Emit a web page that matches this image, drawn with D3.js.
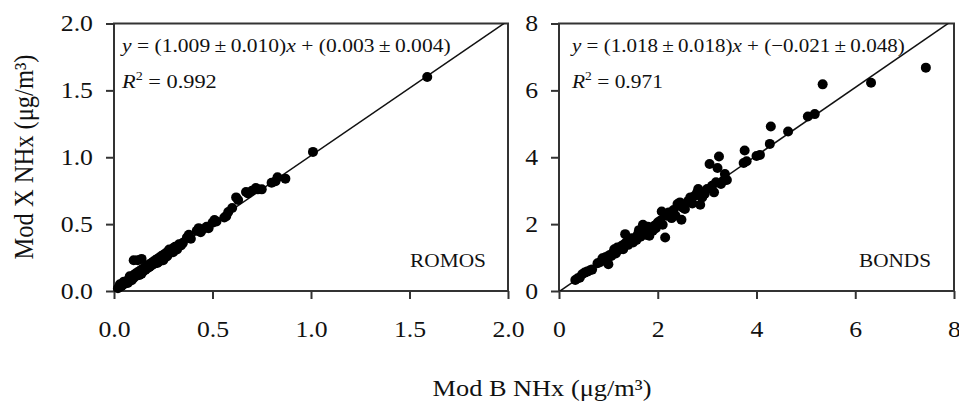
<!DOCTYPE html>
<html><head><meta charset="utf-8">
<script src="https://cdn.jsdelivr.net/npm/d3@7"></script>
<style>
body{margin:0;background:#fff}
svg{display:block;background:#fff}
text{font-family:"Liberation Serif","Times New Roman",serif;fill:#111}
</style>
</head><body>
<svg id="c" width="959" height="402"></svg>
<script>
// ---------- data ----------
const panelNames = ["ROMOS", "BONDS"];
const romosX = [0.02,0.03,0.03,0.04,0.05,0.05,0.06,0.07,0.07,0.08,0.08,0.09,0.10,0.10,0.11,0.11,0.12,0.12,0.13,0.13,0.14,0.14,0.15,0.15,0.16,0.16,0.17,0.17,0.18,0.18,0.19,0.19,0.20,0.20,0.21,0.21,0.22,0.22,0.23,0.23,0.24,0.24,0.25,0.25,0.26,0.26,0.27,0.27,0.28,0.28,0.29,0.30,0.30,0.31,0.32,0.33,0.34,0.35,
  0.10,0.12,0.14,
  0.37,0.38,0.39,0.42,0.43,0.44,0.45,0.47,0.48,0.50,0.51,0.52,0.56,0.57,0.58,0.60,0.62,0.63,0.67,0.68,0.70,0.72,0.73,0.75,0.80,0.82,0.83,0.87,1.01,1.59];
const romosY = [0.02,0.03,0.05,0.04,0.05,0.07,0.06,0.08,0.06,0.09,0.11,0.08,0.10,0.12,0.11,0.13,0.12,0.14,0.15,0.12,0.16,0.13,0.15,0.17,0.18,0.16,0.19,0.17,0.20,0.18,0.21,0.19,0.22,0.20,0.21,0.23,0.24,0.21,0.22,0.25,0.24,0.26,0.23,0.27,0.25,0.28,0.26,0.29,0.28,0.31,0.30,0.32,0.29,0.33,0.31,0.35,0.34,0.36,
  0.23,0.23,0.24,
  0.40,0.42,0.39,0.45,0.47,0.44,0.46,0.48,0.47,0.51,0.53,0.52,0.55,0.56,0.59,0.62,0.70,0.68,0.74,0.73,0.75,0.77,0.76,0.76,0.81,0.82,0.85,0.84,1.04,1.60];
const bondsX = [0.33,0.38,0.42,0.47,0.52,0.57,0.63,0.67,0.78,0.83,0.88,0.92,0.95,0.98,1.00,1.03,1.06,1.10,1.12,1.15,1.18,1.20,1.24,1.27,1.30,1.32,1.34,1.36,1.40,1.43,1.47,1.50,1.55,1.57,1.60,1.62,1.65,1.68,1.70,1.72,1.75,1.78,1.80,1.83,1.87,1.90,1.93,1.96,2.00,2.05,2.08,2.10,2.15,2.18,2.22,2.28,2.32,2.36,2.40,2.45,2.48,2.50,2.55,2.62,2.66,2.70,2.75,2.80,2.82,2.86,2.90,2.95,3.00,3.05,3.10,3.14,3.18,3.21,3.24,3.28,3.33,3.36,3.40,3.74,3.76,3.80,4.00,4.07,4.27,4.29,4.64,5.04,5.18,5.34,6.32,7.43];
const bondsY = [0.33,0.38,0.40,0.50,0.55,0.58,0.62,0.64,0.83,0.86,0.98,0.92,1.02,0.90,0.80,1.08,1.05,1.15,1.25,1.12,1.30,1.22,1.28,1.35,1.25,1.40,1.70,1.45,1.38,1.50,1.58,1.45,1.60,1.53,1.70,1.82,1.62,1.75,1.98,1.85,1.68,1.78,1.92,1.65,1.85,1.80,1.95,1.88,2.05,2.10,2.38,1.98,1.60,2.25,2.35,2.18,2.42,2.25,2.60,2.65,2.13,2.50,2.45,2.70,2.80,2.62,2.85,2.95,3.05,2.58,2.80,2.90,3.05,3.80,3.15,2.95,3.25,3.68,4.02,3.20,3.30,3.50,3.32,3.83,4.20,3.88,4.04,4.07,4.40,4.92,4.77,5.22,5.29,6.18,6.23,6.68];
const fitSlope = [1.009, 1.018];
const fitIntercept = [0.003, -0.021];
const slopeText = ["(1.009\u2009±\u20090.010)", "(1.018\u2009±\u20090.018)"];
const interceptText = ["(0.003\u2009±\u20090.004)", "(\u22120.021\u2009±\u20090.048)"];
const r2Text = ["0.992", "0.971"];
const ticksRomos = [0, 0.5, 1.0, 1.5, 2.0];
const ticksBonds = [0, 2, 4, 6, 8];
const xTitle = "Mod B NHx (\u03bcg/m\u00b3)";
const yTitle = "Mod X NHx (\u03bcg/m\u00b3)";

// ---------- layout ----------
const svg = d3.select("#c");
const STRETCH = 1.12;
const frameColor = "#333";
const panels = [
  {xs: romosX, ys: romosY, ticks: ticksRomos, fmt: d3.format(".1f"), max: 2,
   left: 114, right: 508, top: 23.5, bottom: 291,
   eqX: 122, eqW: 331, r2W: 96, labX: 410, labW: 76},
  {xs: bondsX, ys: bondsY, ticks: ticksBonds, fmt: d3.format("d"), max: 8,
   left: 559, right: 954, top: 23.5, bottom: 291,
   eqX: 572, eqW: 335, r2W: 92, labX: 859, labW: 72}
];

function fitWidth(sel, x0, target) {
  const w = sel.node().getBBox().width;
  const s = target / w;
  sel.attr("transform", `translate(${x0},0) scale(${s},1) translate(${-x0},0)`);
}

panels.forEach((p, i) => {
  const x = d3.scaleLinear().domain([0, p.max]).range([p.left, p.right]);
  const y = d3.scaleLinear().domain([0, p.max]).range([p.bottom, p.top]);
  const g = svg.append("g");

  const clipId = "clip" + i;
  svg.append("clipPath").attr("id", clipId).append("rect")
    .attr("x", p.left).attr("y", p.top)
    .attr("width", p.right - p.left).attr("height", p.bottom - p.top);

  // axes
  const ya = g.append("g").attr("transform", `translate(${p.left},0)`)
    .call(d3.axisLeft(y).tickValues(p.ticks).tickFormat(p.fmt).tickSize(8).tickPadding(13));
  const xa = g.append("g").attr("transform", `translate(0,${p.bottom})`)
    .call(d3.axisBottom(x).tickValues(p.ticks).tickFormat(p.fmt).tickSize(8).tickPadding(22));
  [ya, xa].forEach(a => {
    a.select(".domain").remove();
    a.selectAll(".tick line").attr("stroke", frameColor).attr("stroke-width", 2);
    a.selectAll(".tick text").attr("font-size", 23).attr("fill", "#111")
      .style("font-family", '"Liberation Serif","Times New Roman",serif')
      .each(function() {
        const t = d3.select(this);
        const tx = +t.attr("x") || 0;
        t.attr("x", 0).attr("transform", `translate(${tx},0) scale(${STRETCH},1)`);
      });
  });

  // frame
  g.append("rect").attr("x", p.left).attr("y", p.top)
    .attr("width", p.right - p.left).attr("height", p.bottom - p.top)
    .attr("fill", "none").attr("stroke", frameColor).attr("stroke-width", 2);

  // regression line
  const line = d3.line().x(d => x(d)).y(d => y(fitSlope[i] * d + fitIntercept[i]));
  g.append("path").datum([0, p.max]).attr("d", line)
    .attr("clip-path", `url(#${clipId})`)
    .attr("fill", "none").attr("stroke", "#111").attr("stroke-width", 1.5);

  // points
  g.append("g").selectAll("circle").data(p.xs.map((v, k) => [v, p.ys[k]]))
    .join("circle").attr("cx", d => x(d[0])).attr("cy", d => y(d[1]))
    .attr("r", 5).attr("fill", "#000");

  // equation
  const eq = g.append("text").attr("x", p.eqX).attr("y", 52).attr("font-size", 19);
  eq.append("tspan").attr("font-style", "italic").text("y");
  eq.append("tspan").text(" = " + slopeText[i]);
  eq.append("tspan").attr("font-style", "italic").text("x");
  eq.append("tspan").text(" + " + interceptText[i]);
  fitWidth(eq, p.eqX, p.eqW);

  const r2 = g.append("text").attr("x", p.eqX).attr("y", 88).attr("font-size", 19);
  r2.append("tspan").attr("font-style", "italic").text("R");
  r2.append("tspan").attr("font-size", 12).attr("dy", -8).text("2");
  r2.append("tspan").attr("dy", 8).text(" = " + r2Text[i]);
  fitWidth(r2, p.eqX, p.r2W);

  const lab = g.append("text").attr("x", p.labX).attr("y", 267).attr("font-size", 18).text(panelNames[i]);
  fitWidth(lab, p.labX, p.labW);
});

// axis titles
const yt = svg.append("g").attr("transform", "translate(33,157) rotate(-90)")
  .append("text").attr("text-anchor", "middle").attr("font-size", 24).text(yTitle);
{
  const w = yt.node().getBBox().width;
  yt.attr("transform", `scale(${205 / w},${STRETCH})`);
}
const xt = svg.append("g").attr("transform", "translate(542,396)")
  .append("text").attr("text-anchor", "middle").attr("font-size", 23).text(xTitle);
{
  const w = xt.node().getBBox().width;
  xt.attr("transform", `scale(${219 / w},1)`);
}
</script>
</body></html>
